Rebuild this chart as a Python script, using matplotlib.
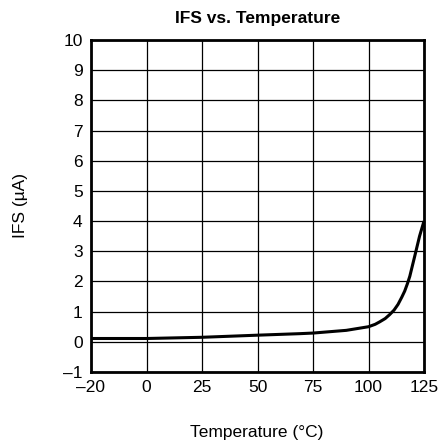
import matplotlib
matplotlib.use("Agg")
import matplotlib.pyplot as plt

# Data
temp = [-25, 0, 25, 50, 69, 75, 90, 100, 103, 105, 107.5, 109.5, 111.5, 113.3, 115, 116.3, 117.5, 118.6, 120.8, 123, 125]
ifs = [0.11, 0.11, 0.15, 0.22, 0.27, 0.29, 0.38, 0.50, 0.58, 0.66, 0.77, 0.90, 1.05, 1.24, 1.48, 1.68, 1.92, 2.17, 2.83, 3.5, 4.0]

x_ticks = [-25, 0, 25, 50, 75, 100, 125]
x_labels = ["\u201320", "0", "25", "50", "75", "100", "125"]
y_ticks = list(range(-1, 11))
y_labels = ["\u20131"] + [str(v) for v in range(0, 11)]

plt.rcParams['font.family'] = ['Liberation Sans', 'DejaVu Sans']

fig = plt.figure(figsize=(4.43, 4.46), dpi=100)
ax = fig.add_axes([91/443, 1-372/446, (424-91)/443, (372-40)/446])

ax.plot(temp, ifs, color='black', linewidth=2.2, solid_capstyle='butt', zorder=3, clip_on=False)

ax.set_xlim(-25, 125)
ax.set_ylim(-1, 10)
ax.set_xticks(x_ticks)
ax.set_xticklabels(x_labels)
ax.set_yticks(y_ticks)
ax.set_yticklabels(y_labels)
ax.tick_params(length=0, labelsize=12.5)
ax.tick_params(axis='y', pad=6)
ax.tick_params(axis='x', pad=6)
ax.grid(True, color='black', linewidth=0.9)
for s in ax.spines.values():
    s.set_linewidth(2)

ax.set_title("IFS vs. Temperature", fontsize=12.5, fontweight='bold', pad=12)
fig.text(257/443, 1-432/446, "Temperature (\u00b0C)", fontsize=12.5, ha='center', va='center')
fig.text(20/443, 1-206/446, "IFS (\u00b5A)", fontsize=12.5, ha='center', va='center', rotation=90)

fig.savefig("out.png", dpi=100)
